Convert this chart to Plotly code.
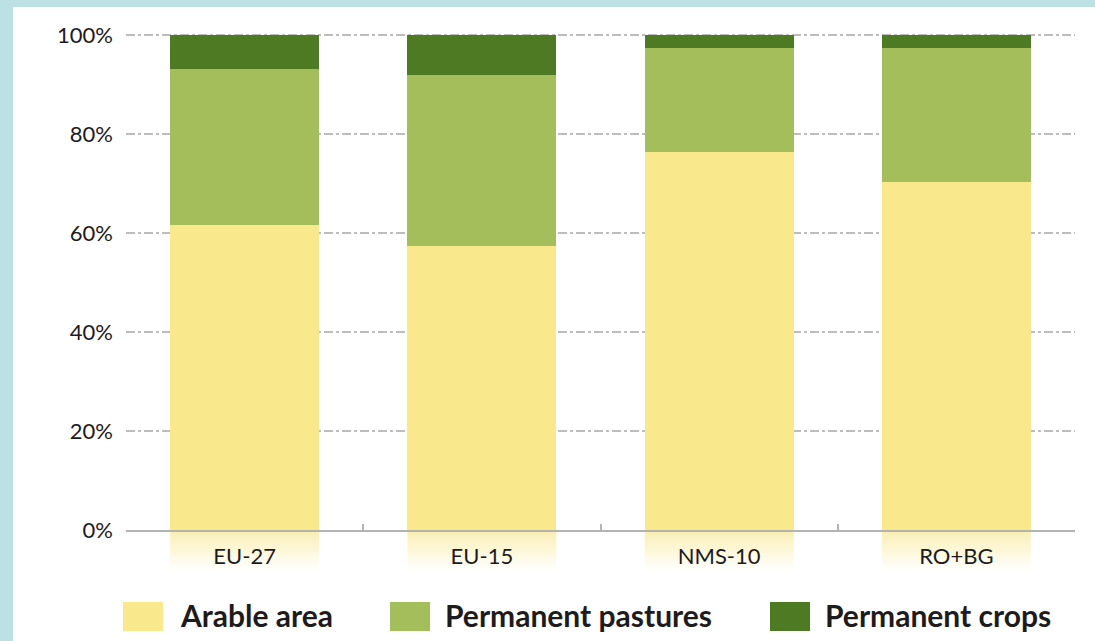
import plotly.graph_objects as go

# Share of utilised agricultural area by land-use type (%)
regions = ["EU-27", "EU-15", "NMS-10", "RO+BG"]
arable = [61.6, 57.4, 76.4, 70.3]
pastures = [31.5, 34.5, 21.0, 27.1]
crops = [6.9, 8.1, 2.6, 2.6]
series_names = ["Arable area", "Permanent pastures", "Permanent crops"]
y_ticks = [0, 20, 40, 60, 80, 100]
y_tick_labels = ["0%", "20%", "40%", "60%", "80%", "100%"]

COLORS = ["#fae88d", "#a4be5c", "#4e7a24"]
BORDER = "#bce1e5"
TEXT = "#1e1b1c"
GRID = "#bdbdbd"
BAR_W = 0.628
Y_MAX = 100.4

W, H = 1095, 641
ML, MR, MB = 126, 20, 111
MT = 35 - round(495 * (Y_MAX - 100) / 100)
PW, PH = W - ML - MR, H - MT - MB


def px_x(px):
    return (px - ML) / PW


def px_y(py):
    return (H - MB - py) / PH


fig = go.Figure()
for name, vals, col in zip(series_names, [arable, pastures, crops], COLORS):
    fig.add_trace(go.Bar(
        x=regions, y=vals, name=name,
        marker=dict(color=col, line=dict(width=0)),
        width=BAR_W, showlegend=False,
    ))

shapes = []
# light blue frame along the left and top edges
shapes.append(dict(type="rect", xref="paper", yref="paper",
                   x0=px_x(0), x1=px_x(13), y0=px_y(H), y1=px_y(0),
                   fillcolor=BORDER, line=dict(width=0), layer="below"))
shapes.append(dict(type="rect", xref="paper", yref="paper",
                   x0=px_x(0), x1=px_x(W), y0=px_y(7), y1=px_y(0),
                   fillcolor=BORDER, line=dict(width=0), layer="below"))

# soft fade of the arable colour under each category label
n_cat = len(regions)
steps = 20
fade_h = 42 / PH
for i in range(n_cat):
    cx = (i + 0.5) / n_cat
    half = BAR_W / 2 / n_cat
    for k in range(steps):
        shapes.append(dict(
            type="rect", xref="paper", yref="paper",
            x0=cx - half, x1=cx + half,
            y0=-(k + 1) * fade_h / steps, y1=-k * fade_h / steps,
            fillcolor=COLORS[0], opacity=0.75 * (1 - k / steps) ** 1.3,
            line=dict(width=0), layer="below",
        ))

# custom legend row
annotations = []
legend_items = [(123, 178), (390, 443), (770, 823)]
for (sx, tx), name, col in zip(legend_items, series_names, COLORS):
    shapes.append(dict(type="rect", xref="paper", yref="paper",
                       x0=px_x(sx), x1=px_x(sx + 40), y0=px_y(631), y1=px_y(602),
                       fillcolor=col, line=dict(width=0)))
    annotations.append(dict(
        xref="paper", yref="paper", x=px_x(tx), y=px_y(615),
        xanchor="left", yanchor="middle", showarrow=False,
        text="<b>" + name + "</b>",
        font=dict(family="Lato", size=30, color=TEXT),
    ))

fig.update_layout(
    width=W, height=H,
    margin=dict(l=ML, r=MR, t=MT, b=MB, pad=0),
    barmode="stack",
    paper_bgcolor="white",
    plot_bgcolor="white",
    showlegend=False,
    shapes=shapes,
    annotations=annotations,
    font=dict(family="Lato", size=22, color=TEXT),
)
fig.update_xaxes(
    type="category",
    range=[-0.5, n_cat - 0.5],
    tickson="boundaries", ticks="inside", ticklen=6, tickcolor="#b3b3b3",
    tickwidth=1.5,
    showline=True, linecolor="#b3b3b3", linewidth=1.5,
    showgrid=False, zeroline=False,
    ticklabelstandoff=6,
    tickfont=dict(family="Lato", size=22, color=TEXT),
)
fig.update_yaxes(
    range=[0, Y_MAX],
    tickmode="array", tickvals=y_ticks, ticktext=y_tick_labels,
    showgrid=True, gridcolor=GRID, gridwidth=1.6, griddash="9px,3px,3px,3px",
    zeroline=False, showline=False, ticks="",
    ticklabelstandoff=12,
    tickfont=dict(family="Lato", size=22, color=TEXT),
)

fig.write_html("out.html")
